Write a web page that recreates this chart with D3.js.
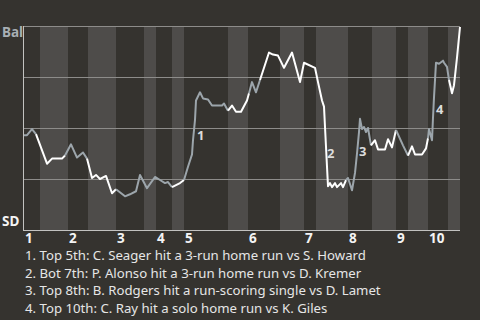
<!DOCTYPE html>
<html>
<head>
<meta charset="utf-8">
<script src="https://cdn.jsdelivr.net/npm/d3@7"></script>
<style>
  body { margin: 0; background: #35332f; }
  svg { display: block; }
  text { font-family: "Noto Sans", "Open Sans", sans-serif; }
</style>
</head>
<body>
<div id="frame"></div>
<script>
// teams at the two ends of the scale
const topTeam = "Bal";
const bottomTeam = "SD";

// plays in every half inning, top then bottom
const halfPlays = [4, 7, 5, 7, 7, 3, 4, 3, 11, 5, 8, 6, 3, 8, 6, 6, 3, 5, 5, 3];
const inningLabels = ["1", "2", "3", "4", "5", "6", "7", "8", "9", "10"];

// win probability for Bal (%) after each play
const plays = [0, 0.75, 2, 3, 5.75, 7, 9.5, 10.25, 11.75, 13.25, 14.75, 15.75, 17, 18, 19, 20.5, 22, 23,
  25.25, 26.5, 28, 29, 30.75, 32.75, 34, 35.25, 36, 37, 39, 40, 41, 42, 42.25, 42.75, 43, 44, 44.75, 46, 47,
  49.5, 50, 51, 52, 53, 54.25, 55.75, 56.25, 57, 58, 59, 60.25, 61.25, 62.25, 63.5, 65, 67, 69, 70, 72.75,
  73.5, 74.5, 75, 75.25, 75.75, 76, 76.5, 77, 77.75, 78.25, 79.25, 79.75, 80.5, 81, 82, 82.75, 83.25, 83.75,
  84, 84.5, 85, 85.5, 86, 86.75, 87.75, 88.5, 90.25, 91, 92, 93, 94.75, 96, 97, 97.75, 99.5, 100.5, 101,
  101.25, 102, 102.25, 102.5, 103, 103.75, 104.75, 105, 105.75, 106.25, 107, 107.5, 108.25, 109];
const winPct = [46.5, 46.5, 49.5, 47, 32.5, 35, 35, 36.5, 42, 35.5, 38, 35, 25.5, 27, 25, 26.5, 18, 20,
  16.5, 17.5, 19, 27, 20.5, 26, 24.5, 23, 23.5, 21, 23, 24.5, 31, 37, 44, 54, 63.5, 67.5, 64.5, 64, 61,
  61, 62, 58.5, 61, 58, 58, 63.5, 67, 72.5, 67.5, 73.5, 81, 87, 86, 85.5, 79.5, 87, 72.5, 82, 79.5,
  72.5, 63.5, 60.5, 50.5, 31, 21.5, 23, 21, 23, 21, 23, 21, 24.5, 25.5, 19.5, 28, 37.5, 48,
  54.5, 49.5, 50.5, 48, 50, 41.5, 44, 39.5, 39.5, 44.5, 40.5, 49, 41.5, 36.5, 41, 37, 37, 40, 45,
  49.5, 44, 55, 65, 82, 81.5, 83, 82, 80, 73.5, 67, 71, 84.5, 99.5];
// tone of the segment that starts at each play (g = grey, w = white)
const tone = ["g", "g", "g", "w", "w", "w", "w", "g", "g", "g", "g", "w", "w", "w", "w", "w", "w", "g",
  "g", "g", "g", "g", "g", "g", "g", "g", "g", "w", "w", "g", "g", "g", "g", "g", "g", "g", "g", "g", "g",
  "g", "g", "w", "w", "w", "w", "w", "g", "g", "g", "w", "w", "w", "w", "w", "w", "w", "w", "w", "w",
  "w", "w", "w", "w", "w", "w", "w", "w", "w", "w", "w", "w", "g", "g", "g", "g", "g", "g",
  "g", "g", "g", "g", "g", "w", "w", "w", "w", "w", "w", "g", "g", "w", "w", "w", "w", "w", "g",
  "g", "g", "g", "g", "g", "g", "g", "g", "g", "w", "w", "w", "w", "w", "w"];

// key plays
const eventNums = ["1", "2", "3", "4"];
const eventPlays = [43.25, 75.75, 83.75, 103];
const eventPct = [44, 35.3, 36.3, 57];
const eventNotes = [
  "1. Top 5th: C. Seager hit a 3-run home run vs S. Howard",
  "2. Bot 7th: P. Alonso hit a 3-run home run vs D. Kremer",
  "3. Top 8th: B. Rodgers hit a run-scoring single vs D. Lamet",
  "4. Top 10th: C. Ray hit a solo home run vs K. Giles"
];

const gridPct = [25, 50, 75, 100];

const frameWidth = 480;
const frameHeight = 320;
const plotLeft = 24, plotRight = 460, plotTop = 26, plotBottom = 230;

let svg = d3.select("#frame")
        .append("svg")
        .attr("width", frameWidth)
        .attr("height", frameHeight);

let totalPlays = d3.sum(halfPlays);
let xScale = d3.scaleLinear().domain([0, totalPlays]).range([plotLeft, plotRight]);
let yScale = d3.scaleLinear().domain([0, 100]).range([plotBottom, plotTop]);

// half inning bands
let starts = Array.from(d3.cumsum([0].concat(halfPlays))).slice(0, halfPlays.length);
svg.append("g")
    .selectAll("rect")
    .data(halfPlays)
    .enter()
    .append("rect")
    .attr("x", (d, i) => xScale(starts[i]))
    .attr("y", plotTop)
    .attr("width", (d, i) => xScale(starts[i] + d) - xScale(starts[i]))
    .attr("height", plotBottom - plotTop)
    .attr("fill", (d, i) => i % 2 ? "#4e4c4a" : "#35332f");

// grid lines
svg.append("g")
    .selectAll("line")
    .data(gridPct)
    .enter()
    .append("line")
    .attr("x1", plotLeft)
    .attr("x2", plotRight)
    .attr("y1", d => Math.round(yScale(d)) + 0.5)
    .attr("y2", d => Math.round(yScale(d)) + 0.5)
    .attr("stroke", "#8d8c8a")
    .attr("stroke-width", 1);

// axes
svg.append("line")
    .attr("x1", plotLeft - 0.5).attr("x2", plotLeft - 0.5)
    .attr("y1", plotTop).attr("y2", plotBottom + 0.5)
    .attr("stroke", "#c2c2c0");
svg.append("line")
    .attr("x1", plotLeft - 1).attr("x2", plotRight)
    .attr("y1", plotBottom + 0.5).attr("y2", plotBottom + 0.5)
    .attr("stroke", "#c2c2c0");

svg.append("text")
    .attr("x", 2)
    .attr("y", 37)
    .attr("fill", "#a8afb4")
    .style("font-size", "13.5px")
    .style("font-weight", "bold")
    .text(topTeam);

svg.append("text")
    .attr("x", 2)
    .attr("y", 226)
    .attr("fill", "#f4f4f4")
    .style("font-size", "13.5px")
    .style("font-weight", "bold")
    .text(bottomTeam);

// inning numbers under the top halves
svg.append("g")
    .selectAll("text")
    .data(inningLabels)
    .enter()
    .append("text")
    .attr("x", (d, i) => xScale(starts[i * 2]) + 1)
    .attr("y", 243)
    .attr("fill", "#f4f4f4")
    .style("font-size", "13.5px")
    .style("font-weight", "bold")
    .text(d => d);

// win probability line, split in runs of one tone
let pts = plays.map((p, i) => ({play: p, pct: winPct[i]}));
let runs = [];
for (let i = 0; i < pts.length - 1; i++) {
    if (i === 0 || tone[i] !== tone[i - 1]) {
        runs.push({tone: tone[i], points: [pts[i]]});
    }
    runs[runs.length - 1].points.push(pts[i + 1]);
}

let line = d3.line()
    .x(d => xScale(d.play))
    .y(d => yScale(d.pct));

svg.append("g")
    .selectAll("path")
    .data(runs)
    .enter()
    .append("path")
    .attr("d", d => line(d.points))
    .attr("fill", "none")
    .attr("stroke", d => d.tone === "w" ? "#ffffff" : "#9ca5ab")
    .attr("stroke-width", 2)
    .attr("stroke-linejoin", "round");

// event markers
svg.append("g")
    .selectAll("text")
    .data(eventNums)
    .enter()
    .append("text")
    .attr("x", (d, i) => xScale(eventPlays[i]))
    .attr("y", (d, i) => yScale(eventPct[i]))
    .attr("fill", "#dcdcdc")
    .style("font-size", "13px")
    .style("font-weight", "bold")
    .text(d => d);

// notes
svg.append("g")
    .selectAll("text")
    .data(eventNotes)
    .enter()
    .append("text")
    .attr("x", 25)
    .attr("y", (d, i) => 260 + i * 17.6)
    .attr("fill", "#e6e6e6")
    .style("font-size", "13.2px")
    .text(d => d);
</script>
</body>
</html>
